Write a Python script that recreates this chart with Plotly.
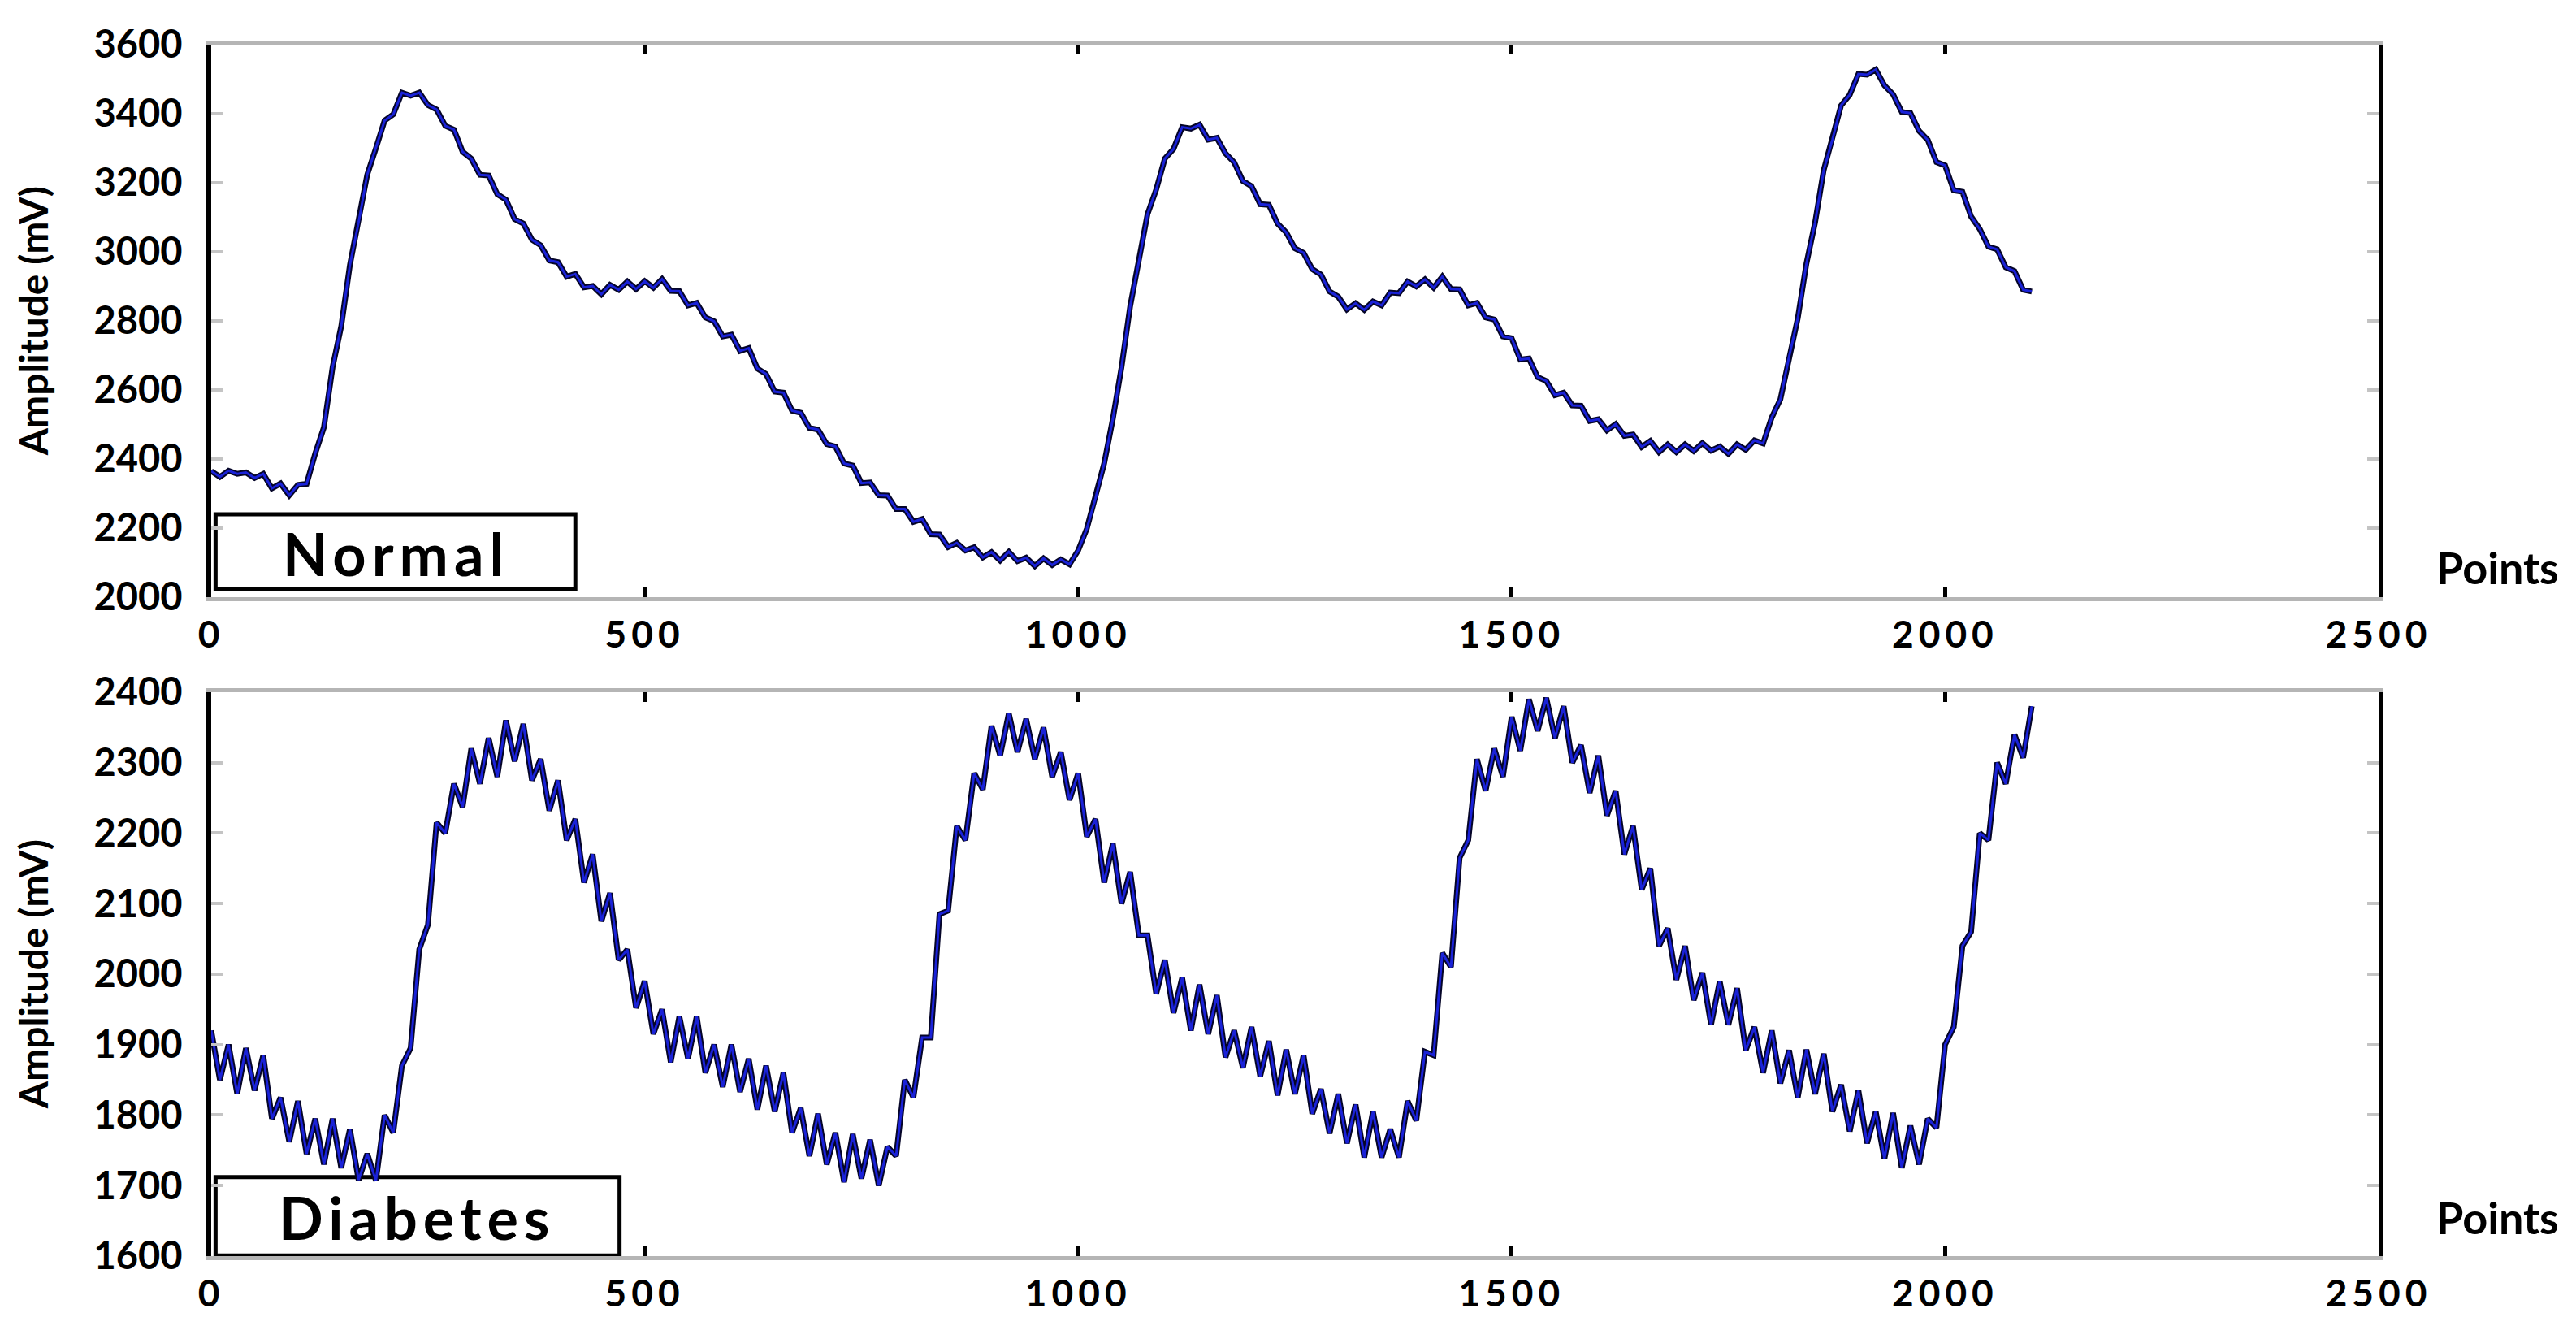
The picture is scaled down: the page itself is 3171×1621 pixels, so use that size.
import plotly.graph_objs as go

# sample index (every 10th point of the record)
points = list(range(0, 2101, 10))

# amplitude of the normal subject (mV)
normal_mv = [
    2365, 2348, 2366, 2357, 2361, 2345, 2357, 2315, 2329, 2295,
    2325, 2328, 2416, 2492, 2666, 2785, 2962, 3085, 3224, 3300,
    3380, 3398, 3461, 3452, 3461, 3425, 3412, 3365, 3354, 3290,
    3270, 3223, 3221, 3167, 3151, 3095, 3082, 3035, 3019, 2975,
    2970, 2928, 2936, 2897, 2901, 2877, 2904, 2890, 2914, 2892,
    2915, 2896, 2921, 2887, 2886, 2845, 2852, 2810, 2799, 2755,
    2760, 2713, 2721, 2662, 2646, 2595, 2592, 2540, 2534, 2490,
    2485, 2443, 2436, 2387, 2381, 2330, 2332, 2295, 2294, 2255,
    2255, 2218, 2226, 2182, 2181, 2145, 2157, 2135, 2144, 2115,
    2130, 2106, 2131, 2104, 2114, 2090, 2112, 2093, 2109, 2095,
    2135, 2198, 2286, 2387, 2516, 2665, 2842, 2970, 3109, 3180,
    3270, 3298, 3361, 3357, 3368, 3325, 3330, 3285, 3259, 3205,
    3190, 3138, 3136, 3082, 3056, 3010, 2997, 2950, 2934, 2885,
    2870, 2833, 2851, 2832, 2856, 2845, 2882, 2880, 2914, 2900,
    2920, 2896, 2928, 2892, 2891, 2845, 2852, 2810, 2804, 2755,
    2750, 2688, 2691, 2637, 2626, 2585, 2592, 2555, 2554, 2510,
    2515, 2483, 2501, 2467, 2471, 2435, 2452, 2420, 2442, 2420,
    2442, 2423, 2446, 2424, 2436, 2415, 2442, 2427, 2454, 2445,
    2520, 2573, 2696, 2807, 2966, 3085, 3237, 3325, 3424, 3455,
    3515, 3513, 3528, 3482, 3456, 3405, 3402, 3350, 3324, 3260,
    3250, 3178, 3174, 3102, 3066, 3015, 3007, 2955, 2944, 2890,
    2885,
]

# amplitude of the diabetic subject (mV)
diabetes_mv = [
    1920, 1850, 1900, 1830, 1895, 1835, 1885, 1795, 1825, 1762,
    1820, 1745, 1795, 1730, 1795, 1725, 1780, 1708, 1745, 1707,
    1800, 1775, 1870, 1895, 2035, 2070, 2215, 2200, 2270, 2237,
    2320, 2270, 2335, 2280, 2360, 2302, 2355, 2275, 2305, 2232,
    2275, 2190, 2220, 2130, 2170, 2075, 2115, 2020, 2035, 1952,
    1990, 1915, 1950, 1875, 1940, 1880, 1940, 1860, 1900, 1840,
    1900, 1833, 1880, 1808, 1870, 1805, 1860, 1775, 1810, 1742,
    1802, 1730, 1775, 1705, 1773, 1710, 1765, 1700, 1755, 1742,
    1850, 1825, 1910, 1910, 2085, 2090, 2210, 2190, 2285, 2262,
    2352, 2310, 2370, 2315, 2362, 2305, 2350, 2280, 2315, 2247,
    2285, 2195, 2220, 2130, 2185, 2100, 2145, 2055, 2055, 1972,
    2020, 1945, 1995, 1920, 1985, 1915, 1970, 1882, 1920, 1867,
    1925, 1855, 1905, 1828, 1893, 1830, 1885, 1802, 1837, 1774,
    1830, 1760, 1815, 1740, 1805, 1740, 1780, 1740, 1820, 1792,
    1890, 1885, 2030, 2010, 2165, 2190, 2305, 2260, 2320, 2280,
    2365, 2317, 2390, 2345, 2392, 2335, 2380, 2300, 2325, 2257,
    2310, 2225, 2260, 2170, 2210, 2120, 2150, 2040, 2065, 1992,
    2040, 1963, 2002, 1928, 1990, 1928, 1980, 1892, 1925, 1860,
    1920, 1845, 1892, 1825, 1893, 1830, 1887, 1805, 1843, 1777,
    1835, 1760, 1805, 1738, 1803, 1725, 1785, 1730, 1795, 1782,
    1900, 1925, 2040, 2060, 2200, 2190, 2300, 2270, 2340, 2307,
    2380,
]

x_ticks = [0, 500, 1000, 1500, 2000, 2500]
normal_y_ticks = [2000, 2200, 2400, 2600, 2800, 3000, 3200, 3400, 3600]
diabetes_y_ticks = [1600, 1700, 1800, 1900, 2000, 2100, 2200, 2300, 2400]

FONT = 'Lato'
WEIGHT = 'bold'


def signal_traces(y, xaxis, yaxis):
    """dark outline + blue core, looks like the smeared scan of the original"""
    ret = []
    for color, width in [('#050528', 7), ('#1a22d8', 3)]:
        ret.append(go.Scatter(
            x=points, y=y, mode='lines', xaxis=xaxis, yaxis=yaxis,
            line={'color': color, 'width': width},
            showlegend=False, hoverinfo='skip'
        ))
    return ret


def x_axis(domain_anchor):
    return dict(
        range=[0, 2500], anchor=domain_anchor, domain=[0, 1],
        tickvals=x_ticks,
        ticktext=['<span style="letter-spacing:6px">%d</span>' % v for v in x_ticks],
        ticks='inside', ticklen=12, tickwidth=5, tickcolor='black',
        showline=True, linecolor='#b5b5b5', linewidth=5, mirror='ticks',
        showgrid=False, zeroline=False,
        tickfont={'family': FONT, 'size': 46, 'color': 'black', 'weight': WEIGHT},
        ticklabelstandoff=2,
    )


def y_axis(rng, ticks, domain, anchor):
    return dict(
        range=rng, domain=domain, anchor=anchor, tickvals=ticks,
        ticks='inside', ticklen=14, tickwidth=4, tickcolor='#c4c4c4',
        showline=True, linecolor='black', linewidth=6, mirror='ticks',
        showgrid=False, zeroline=False,
        tickfont={'family': FONT, 'size': 47, 'color': 'black', 'weight': WEIGHT},
        ticklabelstandoff=20,
    )


def label_box(xref, yref, x0, x1, y0, y1):
    return dict(type='rect', xref=xref, yref=yref, x0=x0, x1=x1, y0=y0, y1=y1,
                line={'color': 'black', 'width': 5}, fillcolor='white', layer='below')


def text(s, xref, yref, x, y, size, angle=0, xanchor='center'):
    return dict(text=s, xref=xref, yref=yref, x=x, y=y, showarrow=False,
                textangle=angle, xanchor=xanchor, yanchor='middle',
                font={'family': FONT, 'size': size, 'color': 'black', 'weight': WEIGHT})


def ppg_figure():
    data = signal_traces(normal_mv, 'x', 'y') + signal_traces(diabetes_mv, 'x2', 'y2')

    layout = go.Layout(
        width=3171, height=1621,
        margin={'l': 252, 'r': 251, 't': 47, 'b': 83},
        paper_bgcolor='white', plot_bgcolor='white',
        xaxis=x_axis('y'),
        yaxis=y_axis([2000, 3600], normal_y_ticks, [0.544, 1.0], 'x'),
        xaxis2=x_axis('y2'),
        yaxis2=y_axis([1600, 2400], diabetes_y_ticks, [0.0, 0.4655], 'x2'),
        shapes=[
            label_box('x', 'y', 5, 420, 2023, 2240),
            label_box('x2', 'y2', 5, 471, 1601, 1712),
        ],
        annotations=[
            text('<span style="letter-spacing:7px">Normal</span>', 'x', 'y', 213, 2128, 72),
            text('<span style="letter-spacing:7px">Diabetes</span>', 'x2', 'y2', 238, 1655, 72),
            text('Amplitude (mV)', 'x domain', 'y domain', -0.082, 0.5, 48, angle=-90),
            text('Amplitude (mV)', 'x2 domain', 'y2 domain', -0.082, 0.5, 48, angle=-90),
            text('Points', 'x domain', 'y domain', 1.0259, 0.054, 54, xanchor='left'),
            text('Points', 'x2 domain', 'y2 domain', 1.0259, 0.068, 54, xanchor='left'),
        ],
    )

    figure = go.Figure(data=data, layout=layout)
    figure.write_html('out.html')


if __name__ == '__main__':
    ppg_figure()
